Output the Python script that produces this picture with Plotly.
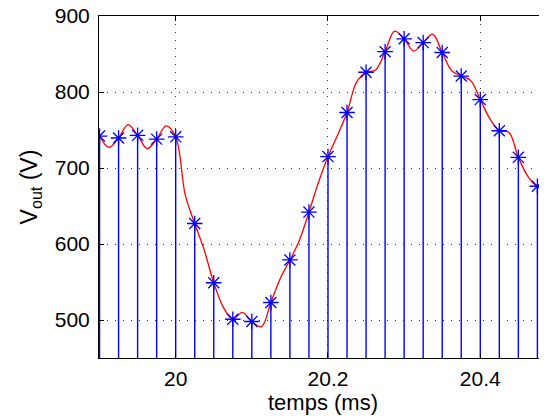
import plotly.graph_objects as go

# Sampled values (stems)
t_samples = [19.9, 19.925, 19.95, 19.975, 20.0, 20.025, 20.05, 20.075, 20.1, 20.125,
             20.15, 20.175, 20.2, 20.225, 20.25, 20.275, 20.3, 20.325, 20.35, 20.375,
             20.4, 20.425, 20.45, 20.475]
v_samples = [742, 739.5, 743, 738, 741, 627, 549, 501, 498, 523,
             579, 642, 715, 773, 826, 853, 870, 865, 852, 821,
             790, 749, 714, 676]

# Continuous waveform (red), read at samples and half-sample points
t_curve = [19.9, 19.9125, 19.925, 19.9375, 19.95, 19.9625, 19.975, 19.9875, 20.0, 20.0125,
           20.025, 20.0375, 20.05, 20.0625, 20.075, 20.0875, 20.1, 20.1125, 20.125, 20.1375,
           20.15, 20.1625, 20.175, 20.1875, 20.2, 20.2125, 20.225, 20.2375, 20.25, 20.2625,
           20.275, 20.2875, 20.3, 20.3125, 20.325, 20.3375, 20.35, 20.3625, 20.375, 20.3875,
           20.4, 20.4125, 20.425, 20.4375, 20.45, 20.4625, 20.475, 20.4875]
v_curve = [742, 727, 739.5, 757, 743, 725.5, 738, 755.5, 741, 665,
           627, 592, 549, 517, 501, 510, 498, 491, 523, 555,
           579, 605, 642, 681, 715, 743, 773, 813, 826, 829,
           853, 880, 870, 854, 865, 876, 852, 828, 821, 815,
           790, 765, 749, 747, 714, 689, 676, 681]

x_ticks = [20, 20.2, 20.4]
x_ticklabels = ["20", "20.2", "20.4"]
y_ticks = [500, 600, 700, 800, 900]

stem_x, stem_y = [], []
for t, v in zip(t_samples, v_samples):
    stem_x += [t, t, None]
    stem_y += [0, v, None]

fig = go.Figure()
fig.add_trace(go.Scatter(x=t_curve, y=v_curve, mode="lines",
                         line=dict(color="#ff0000", width=1.3, shape="spline", smoothing=1),
                         showlegend=False, hoverinfo="skip"))
fig.add_trace(go.Scatter(x=stem_x, y=stem_y, mode="lines",
                         line=dict(color="#0000ff", width=1.4),
                         showlegend=False, hoverinfo="skip"))
fig.add_trace(go.Scatter(x=t_samples, y=v_samples, mode="markers",
                         marker=dict(symbol="asterisk-open", size=13, color="#0000ff",
                                     line=dict(color="#0000ff", width=1.3)),
                         showlegend=False))

font = "Liberation Sans, Arial, Helvetica, sans-serif"
# note: the page body adds an 8px offset, so the figure is sized 8px smaller
fig.update_layout(
    width=539, height=411,
    margin=dict(l=91, r=0, t=8, b=61),
    paper_bgcolor="white", plot_bgcolor="white",
    font=dict(family=font, size=21, color="black"),
    xaxis=dict(range=[19.8993, 20.4876], tickvals=x_ticks, ticktext=x_ticklabels,
               ticks="inside", ticklen=5, tickcolor="black", automargin=False,
               showline=True, linecolor="black", linewidth=1, mirror="ticks",
               showgrid=True, gridcolor="#333333", gridwidth=1, griddash="1px,7px",
               zeroline=False, tickfont=dict(size=21), ticklabelstandoff=2,
               ticklabeloverflow="allow",
               title=dict(text="temps (ms)", font=dict(size=22), standoff=4)),
    yaxis=dict(range=[450, 900], tickvals=y_ticks,
               ticks="inside", ticklen=5, tickcolor="black", automargin=False,
               showline=True, linecolor="black", linewidth=1,
               showgrid=True, gridcolor="#333333", gridwidth=1, griddash="1px,7px",
               zeroline=False, tickfont=dict(size=21), ticklabelstandoff=4,
               ticklabeloverflow="allow",
               title=dict(text="V<sub>out</sub> (V)", font=dict(size=23), standoff=10)),
)

fig.write_html("out.html")
